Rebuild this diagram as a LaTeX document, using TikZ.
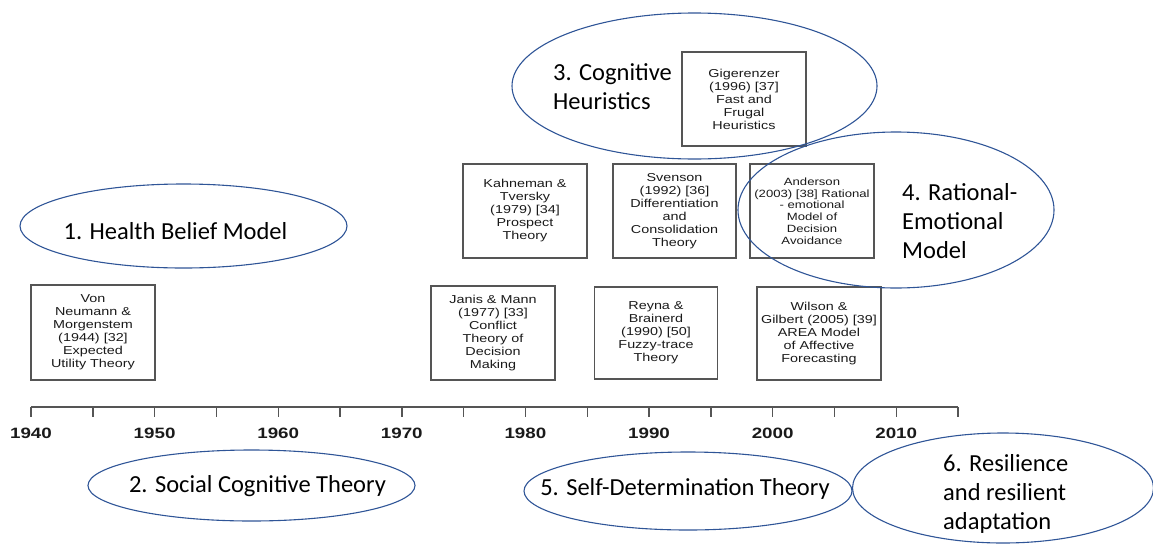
\documentclass[tikz,border=0pt]{standalone}
\usepackage{fontspec}
\setmainfont{Carlito}
\newfontfamily\boxfont[FakeStretch=1.25]{Liberation Sans}
\usetikzlibrary{shapes.geometric}
\definecolor{ellblue}{HTML}{2F5597}
\definecolor{boxgray}{HTML}{555555}
\definecolor{txtgray}{HTML}{1A1A1A}
\begin{document}
\begin{tikzpicture}[x=1pt,y=-1pt,
  tbox/.style={draw=boxgray, line width=1.3pt, inner sep=0pt, align=center,
    text=txtgray, font=\boxfont\fontsize{11.5}{13}\selectfont},
  oval/.style={draw=ellblue, line width=1.1pt, ellipse, inner sep=0pt},
  ovaltext/.style={font=\fontsize{24.5}{29}\selectfont, text=black, inner sep=0pt},
  yearlbl/.style={font=\boxfont\bfseries\fontsize{15}{15}\selectfont, text=txtgray, inner sep=0pt},
  axisline/.style={draw=boxgray, line width=1.4pt}]
\useasboundingbox (0,0) rectangle (1153,544);
\clip (0,0) rectangle (1153,544);

% boxes
\node[tbox, minimum width=124pt, minimum height=95pt] (vonneumann) at (93,332.5)
  {Von\\Neumann \&\\Morgenstem\\(1944) [32]\\Expected\\Utility Theory};
\node[tbox, minimum width=124pt, minimum height=94pt] (janis) at (493,333)
  {Janis \& Mann\\(1977) [33]\\Conflict\\Theory of\\Decision\\Making};
\node[tbox, minimum width=123pt, minimum height=92pt] (reyna) at (656,333)
  {Reyna \&\\Brainerd\\(1990) [50]\\Fuzzy-trace\\Theory};
\node[tbox, minimum width=124pt, minimum height=93pt] (wilson) at (819,333.5)
  {Wilson \&\\Gilbert (2005) [39]\\AREA Model\\of Affective\\Forecasting};
\node[tbox, minimum width=124pt, minimum height=94pt] (kahneman) at (525,211)
  {Kahneman \&\\Tversky\\(1979) [34]\\Prospect\\Theory};
\node[tbox, minimum width=123pt, minimum height=94pt] (svenson) at (674.5,211)
  {Svenson\\(1992) [36]\\Differentiation\\and\\Consolidation\\Theory};
\node[tbox, minimum width=124pt, minimum height=94pt, font=\boxfont\fontsize{10.5}{11.7}\selectfont] (anderson) at (812,211)
  {Anderson\\(2003) [38] Rational\\- emotional\\Model of\\Decision\\Avoidance};
\node[tbox, minimum width=124pt, minimum height=94pt] (gigerenzer) at (744,99)
  {Gigerenzer\\(1996) [37]\\Fast and\\Frugal\\Heuristics};

% axis
\draw[axisline] (31,407) -- (958,407);
\foreach \i in {0,...,15} {
  \draw[axisline] ({31+\i*61.8},407) -- ({31+\i*61.8},417);
}
\foreach \yr/\i in {1940/0,1950/2,1960/4,1970/6,1980/8,1990/10,2000/12,2010/14} {
  \node[yearlbl] (y\yr) at ({31+\i*61.8},433) {\yr};
}

% ellipses
\node[oval, minimum width=327pt, minimum height=84pt] (hbm) at (183.5,226) {};
\node[ovaltext] (hbmtext) at (175.5,231) {1. Health Belief Model};
\node[oval, minimum width=327pt, minimum height=71pt] (sct) at (251.5,485.5) {};
\node[ovaltext] (scttext) at (257.5,486) {2. Social Cognitive Theory};
\node[oval, minimum width=365pt, minimum height=146pt] (ch) at (694.5,86) {};
\node[ovaltext, align=left, anchor=west] (chtext) at (553,87) {3. Cognitive\\Heuristics};
\node[oval, minimum width=316pt, minimum height=156pt] (rem) at (896,210) {};
\node[ovaltext, align=left, anchor=west] (remtext) at (902,221) {4. Rational-\\Emotional\\Model};
\node[oval, minimum width=328pt, minimum height=78pt] (sdt) at (688,491) {};
\node[ovaltext] (sdttext) at (685,489) {5. Self-Determination Theory};
\node[oval, minimum width=301pt, minimum height=110pt] (res) at (1003,488) {};
\node[ovaltext, align=left, anchor=west] (restext) at (943,494) {6. Resilience\\and resilient\\adaptation};
\end{tikzpicture}
\end{document}
